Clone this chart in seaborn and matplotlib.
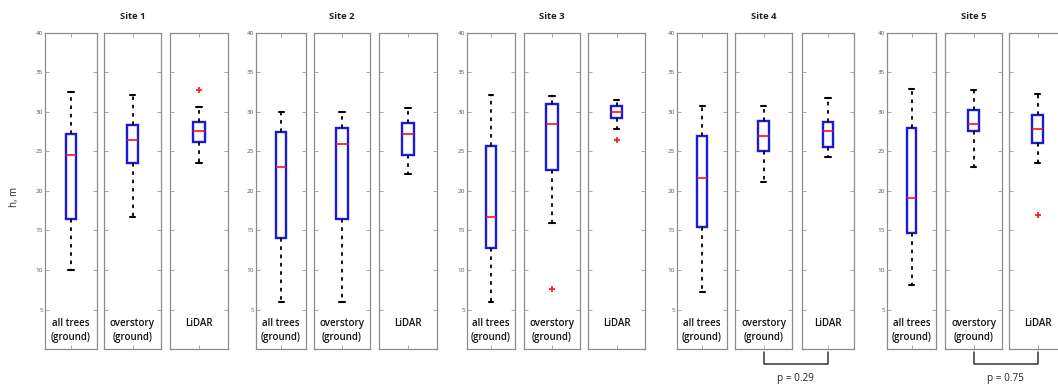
import matplotlib
matplotlib.use("Agg")
import matplotlib.pyplot as plt
import seaborn as sns
import numpy as np

# ---------------- data ----------------
sites = ["Site 1", "Site 2", "Site 3", "Site 4", "Site 5"]
groups = ["all trees\n(ground)", "overstory\n(ground)", "LiDAR"]

# five-number summaries, ordered site by site, group by group (15 boxes)
lower_whisker = [10.0, 16.7, 23.6,   6.0, 6.0, 22.2,   5.9, 16.0, 27.9,   7.2, 21.2, 24.3,   8.1, 23.0, 23.5]
q1            = [16.5, 23.5, 26.2,  14.0, 16.5, 24.6,  12.8, 22.6, 29.2,  15.5, 25.0, 25.6,  14.7, 27.6, 26.1]
median        = [24.5, 26.5, 27.6,  23.0, 25.9, 27.2,  16.7, 28.5, 30.0,  21.6, 27.0, 27.6,  19.1, 28.5, 27.8]
q3            = [27.2, 28.4, 28.7,  27.5, 28.0, 28.6,  25.7, 31.0, 30.7,  27.0, 28.9, 28.7,  28.0, 30.3, 29.6]
upper_whisker = [32.5, 32.1, 30.6,  30.0, 30.0, 30.5,  32.1, 32.0, 31.5,  30.7, 30.7, 31.8,  32.9, 32.8, 32.3]

# outliers (site index, group index, value)
outlier_site = [0, 2, 2, 4]
outlier_group = [2, 1, 2, 2]
outlier_value = [32.8, 7.6, 26.4, 17.0]

# significance annotations (site index, p-value text) between overstory and LiDAR
pvalue_site = [3, 4]
pvalue_text = ["p = 0.29", "p = 0.75"]

y_ticks = [5, 10, 15, 20, 25, 30, 35, 40]
y_label = "h, m"

# ---------------- layout ----------------
sns.set_theme(style="white")
plt.rcParams["font.family"] = ["Open Sans", "DejaVu Sans"]

W, H = 1058, 385
fig = plt.figure(figsize=(W / 100, H / 100), dpi=100)

# panel pixel extents (left, right) per site; top/bottom shared
panel_px = [
    [(45, 97), (104, 161), (170, 228)],
    [(256, 306), (314, 370), (379, 437)],
    [(467, 515), (524, 580), (588, 645)],
    [(677, 727), (735, 792), (802, 854)],
    [(887, 936), (945, 1002), (1009, 1066)],
]
top_px, bot_px = 33, 349

box_blue = "#1a1ad8"
spine_col = "#8c8c8c"

axes = {}
for si, site in enumerate(sites):
    for gi, grp in enumerate(groups):
        l, r = panel_px[si][gi]
        ax = fig.add_axes([l / W, 1 - bot_px / H, (r - l) / W, (bot_px - top_px) / H])
        axes[(si, gi)] = ax
        k = si * 3 + gi
        vals = [lower_whisker[k], q1[k], median[k], q3[k], upper_whisker[k]]
        sns.boxplot(
            y=vals, ax=ax, width=0.2, whis=(0, 100), fliersize=0,
            color="white", linecolor=box_blue, linewidth=1.7,
            boxprops=dict(edgecolor=box_blue, facecolor="white"),
            whiskerprops=dict(color="black", linestyle=(0, (2.0, 2.6)), linewidth=1.3),
            capprops=dict(color="black", linewidth=1.5),
            medianprops=dict(color="#ff1010", linewidth=1.2),
        )
        for osi, ogi, ov in zip(outlier_site, outlier_group, outlier_value):
            if osi == si and ogi == gi:
                sns.scatterplot(x=[0], y=[ov], ax=ax, marker="+", color="#ff2020",
                                s=16, linewidth=1.3, legend=False)
        ax.set_xlim(-0.5, 0.5)
        ax.set_ylim(0, 40)
        ax.set_yticks(y_ticks)
        ax.set_xticks([0])
        ax.set_xlabel("")
        ax.set_ylabel("")
        ax.tick_params(axis="y", direction="in", left=True, right=True, length=3,
                       width=0.6, color="#999999", labelsize=4.6, labelcolor="#555555",
                       pad=1.5, labelleft=(gi == 0))
        ax.tick_params(axis="x", direction="in", bottom=True, top=True, length=3,
                       width=0.6, color="#999999", labelbottom=False)
        for sp in ax.spines.values():
            sp.set_color(spine_col)
            sp.set_linewidth(0.9)
        ax.text(0.5, 0.098, grp, transform=ax.transAxes, ha="center", va="top",
                fontsize=7.0, fontweight="semibold", color="#111111", linespacing=1.4)
    # site title above middle panel
    mid = axes[(si, 1)]
    mid.text(0.5, 1 + 16 / (bot_px - top_px), site, transform=mid.transAxes,
             ha="center", va="center", fontsize=6.8, fontweight="bold", color="#222222")

# y label
fig.text(15 / W, 1 - 197 / H, y_label, rotation=90, ha="center", va="center",
         fontsize=7, color="#222222")

# p-value brackets between overstory and LiDAR
hpx = bot_px - top_px
for si, txt in zip(pvalue_site, pvalue_text):
    a1, a2 = axes[(si, 1)], axes[(si, 2)]
    x1 = a1.transData.transform((0, 0))[0]
    x2 = a2.transData.transform((0, 0))[0]
    y_top = a1.transAxes.transform((0, -3 / hpx))[1]
    y_bot = a1.transAxes.transform((0, -15 / hpx))[1]
    inv = fig.transFigure.inverted()
    (fx1, fyt) = inv.transform((x1, y_top))
    (fx2, fyb) = inv.transform((x2, y_bot))
    fig.add_artist(plt.Line2D([fx1, fx1, fx2, fx2], [fyt, fyb, fyb, fyt],
                              transform=fig.transFigure, color="#333333", linewidth=1.1))
    fy_text = inv.transform((0, a1.transAxes.transform((0, -29 / hpx))[1]))[1]
    fig.text((fx1 + fx2) / 2, fy_text, txt, ha="center", va="center",
             fontsize=7.2, color="#222222")

fig.savefig("out.png", dpi=100)
